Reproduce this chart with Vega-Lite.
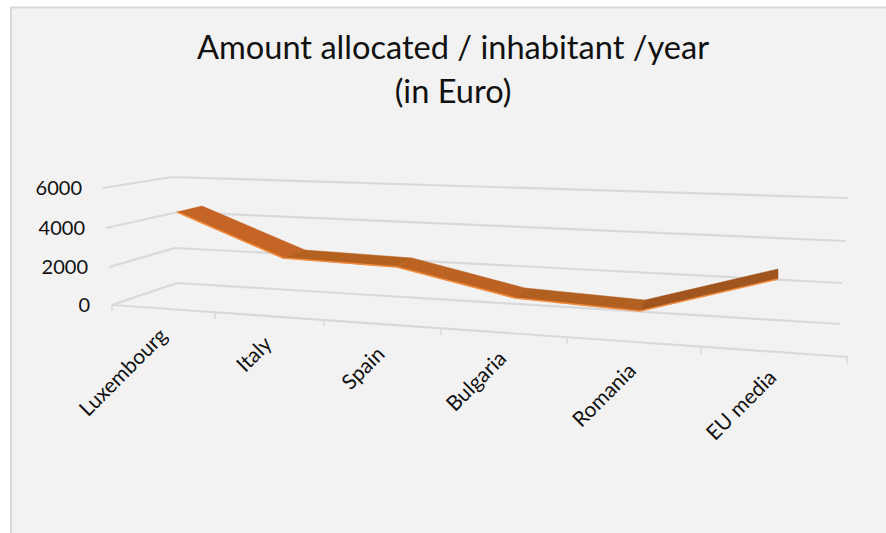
{
  "$schema": "https://vega.github.io/schema/vega-lite/v6.json",
  "width": 886,
  "height": 533,
  "padding": 0,
  "autosize": "none",
  "background": "#ffffff",
  "title": {
    "text": ["Amount allocated / inhabitant /year", "(in Euro)"],
    "anchor": "middle",
    "frame": "group",
    "dx": 10,
    "offset": -110,
    "font": "Lato",
    "fontSize": 32.6,
    "fontWeight": "normal",
    "lineHeight": 44,
    "color": "#111111"
  },
  "config": {"view": {"stroke": null}},
  "datasets": {
    "panel": [{"x0": 11, "x1": 900, "v0": 15256, "v1": -12500}],
    "grid": [
      {"line": "6000", "ord": 1, "pos": 103, "value": 6000},
      {"line": "6000", "ord": 2, "pos": 172, "value": 6564},
      {"line": "6000", "ord": 3, "pos": 848, "value": 5487},
      {"line": "4000", "ord": 1, "pos": 106, "value": 3949},
      {"line": "4000", "ord": 2, "pos": 178, "value": 4769},
      {"line": "4000", "ord": 3, "pos": 846, "value": 3282},
      {"line": "2000", "ord": 1, "pos": 109, "value": 1949},
      {"line": "2000", "ord": 2, "pos": 175, "value": 2923},
      {"line": "2000", "ord": 3, "pos": 842, "value": 1128},
      {"line": "0", "ord": 1, "pos": 112, "value": 0},
      {"line": "0", "ord": 2, "pos": 177, "value": 1128},
      {"line": "0", "ord": 3, "pos": 840, "value": -974},
      {"line": "axis", "ord": 1, "pos": 112, "value": 0},
      {"line": "axis", "ord": 2, "pos": 848, "value": -2667}
    ],
    "ticks": [
      {"pos": 112, "top": 0, "bottom": -308},
      {"pos": 215, "top": -410, "bottom": -718},
      {"pos": 324, "top": -769, "bottom": -1077},
      {"pos": 441, "top": -1231, "bottom": -1538},
      {"pos": 567, "top": -1692, "bottom": -2000},
      {"pos": 701, "top": -2205, "bottom": -2513},
      {"pos": 847, "top": -2667, "bottom": -3026}
    ],
    "ribbon": [
      {"segment": "Luxembourg-Italy", "ord": 1, "pos": 177, "value": 4769},
      {"segment": "Luxembourg-Italy", "ord": 2, "pos": 202, "value": 5077},
      {"segment": "Luxembourg-Italy", "ord": 3, "pos": 305, "value": 2821},
      {"segment": "Luxembourg-Italy", "ord": 4, "pos": 283, "value": 2410},
      {"segment": "Luxembourg-Italy", "ord": 5, "pos": 177, "value": 4769},
      {"segment": "Italy-Spain", "ord": 1, "pos": 283, "value": 2410},
      {"segment": "Italy-Spain", "ord": 2, "pos": 305, "value": 2821},
      {"segment": "Italy-Spain", "ord": 3, "pos": 412, "value": 2410},
      {"segment": "Italy-Spain", "ord": 4, "pos": 397, "value": 1949},
      {"segment": "Italy-Spain", "ord": 5, "pos": 283, "value": 2410},
      {"segment": "Spain-Bulgaria", "ord": 1, "pos": 397, "value": 1949},
      {"segment": "Spain-Bulgaria", "ord": 2, "pos": 412, "value": 2410},
      {"segment": "Spain-Bulgaria", "ord": 3, "pos": 525, "value": 872},
      {"segment": "Spain-Bulgaria", "ord": 4, "pos": 515, "value": 359},
      {"segment": "Spain-Bulgaria", "ord": 5, "pos": 397, "value": 1949},
      {"segment": "Bulgaria-Romania", "ord": 1, "pos": 515, "value": 359},
      {"segment": "Bulgaria-Romania", "ord": 2, "pos": 525, "value": 872},
      {"segment": "Bulgaria-Romania", "ord": 3, "pos": 645, "value": 256},
      {"segment": "Bulgaria-Romania", "ord": 4, "pos": 640, "value": -308},
      {"segment": "Bulgaria-Romania", "ord": 5, "pos": 515, "value": 359},
      {"segment": "Romania-EU media", "ord": 1, "pos": 640, "value": -308},
      {"segment": "Romania-EU media", "ord": 2, "pos": 645, "value": 256},
      {"segment": "Romania-EU media", "ord": 3, "pos": 778, "value": 1846},
      {"segment": "Romania-EU media", "ord": 4, "pos": 778, "value": 1333},
      {"segment": "Romania-EU media", "ord": 5, "pos": 640, "value": -308}
    ],
    "front": [
      {"category": "Luxembourg", "pos": 177, "value": 4769},
      {"category": "Italy", "pos": 283, "value": 2410},
      {"category": "Spain", "pos": 397, "value": 1949},
      {"category": "Bulgaria", "pos": 515, "value": 359},
      {"category": "Romania", "pos": 640, "value": -308},
      {"category": "EU media", "pos": 778, "value": 1333}
    ],
    "valueLabels": [
      {"label": "6000", "pos": 82, "value": 5949},
      {"label": "4000", "pos": 85, "value": 3898},
      {"label": "2000", "pos": 88, "value": 1898},
      {"label": "0", "pos": 90, "value": -51}
    ],
    "categoryLabels": [
      {"label": "Luxembourg", "pos": 124, "value": -3487},
      {"label": "Italy", "pos": 255, "value": -2564},
      {"label": "Spain", "pos": 364, "value": -3282},
      {"label": "Bulgaria", "pos": 477, "value": -3949},
      {"label": "Romania", "pos": 605, "value": -4667},
      {"label": "EU media", "pos": 742, "value": -5179}
    ]
  },
  "encoding": {
    "x": {"type": "quantitative", "scale": {"domain": [0, 886], "nice": false, "zero": false}, "axis": null},
    "y": {"type": "quantitative", "scale": {"domain": [-11692, 15641], "nice": false, "zero": false}, "axis": null}
  },
  "layer": [
    {
      "data": {"name": "panel"},
      "mark": {"type": "rect", "fill": "#f2f2f2", "stroke": "#d9d9d9", "strokeWidth": 2, "clip": true},
      "encoding": {
        "x": {"field": "x0"},
        "x2": {"field": "x1"},
        "y": {"field": "v0"},
        "y2": {"field": "v1"}
      }
    },
    {
      "data": {"name": "grid"},
      "mark": {"type": "line", "stroke": "#d9d9d9", "strokeWidth": 2.2},
      "encoding": {
        "x": {"field": "pos"},
        "y": {"field": "value"},
        "detail": {"field": "line"},
        "order": {"field": "ord"}
      }
    },
    {
      "data": {"name": "ticks"},
      "mark": {"type": "rule", "stroke": "#d9d9d9", "strokeWidth": 1.5},
      "encoding": {
        "x": {"field": "pos"},
        "y": {"field": "top"},
        "y2": {"field": "bottom"}
      }
    },
    {
      "data": {"name": "ribbon"},
      "mark": {"type": "line", "strokeWidth": 0.5, "interpolate": "linear"},
      "encoding": {
        "x": {"field": "pos"},
        "y": {"field": "value"},
        "order": {"field": "ord"},
        "fill": {
          "field": "segment",
          "scale": {
            "domain": ["Luxembourg-Italy", "Italy-Spain", "Spain-Bulgaria", "Bulgaria-Romania", "Romania-EU media"],
            "range": ["#c46525", "#b4601f", "#bc6323", "#b25f22", "#a0551e"]
          },
          "legend": null
        },
        "stroke": {
          "field": "segment",
          "scale": {
            "domain": ["Luxembourg-Italy", "Italy-Spain", "Spain-Bulgaria", "Bulgaria-Romania", "Romania-EU media"],
            "range": ["#c46525", "#b4601f", "#bc6323", "#b25f22", "#a0551e"]
          },
          "legend": null
        }
      }
    },
    {
      "data": {"name": "front"},
      "mark": {"type": "line", "stroke": "#f28a3c", "strokeWidth": 1.6},
      "encoding": {
        "x": {"field": "pos"},
        "y": {"field": "value"},
        "order": {"field": "pos"}
      }
    },
    {
      "data": {"name": "valueLabels"},
      "mark": {"type": "text", "align": "right", "baseline": "middle", "font": "Lato", "fontSize": 20, "fill": "#111111"},
      "encoding": {
        "x": {"field": "pos"},
        "y": {"field": "value"},
        "text": {"field": "label"}
      }
    },
    {
      "data": {"name": "categoryLabels"},
      "mark": {"type": "text", "align": "center", "baseline": "middle", "angle": 315, "font": "Lato", "fontSize": 21, "fill": "#111111"},
      "encoding": {
        "x": {"field": "pos"},
        "y": {"field": "value"},
        "text": {"field": "label"}
      }
    }
  ]
}
